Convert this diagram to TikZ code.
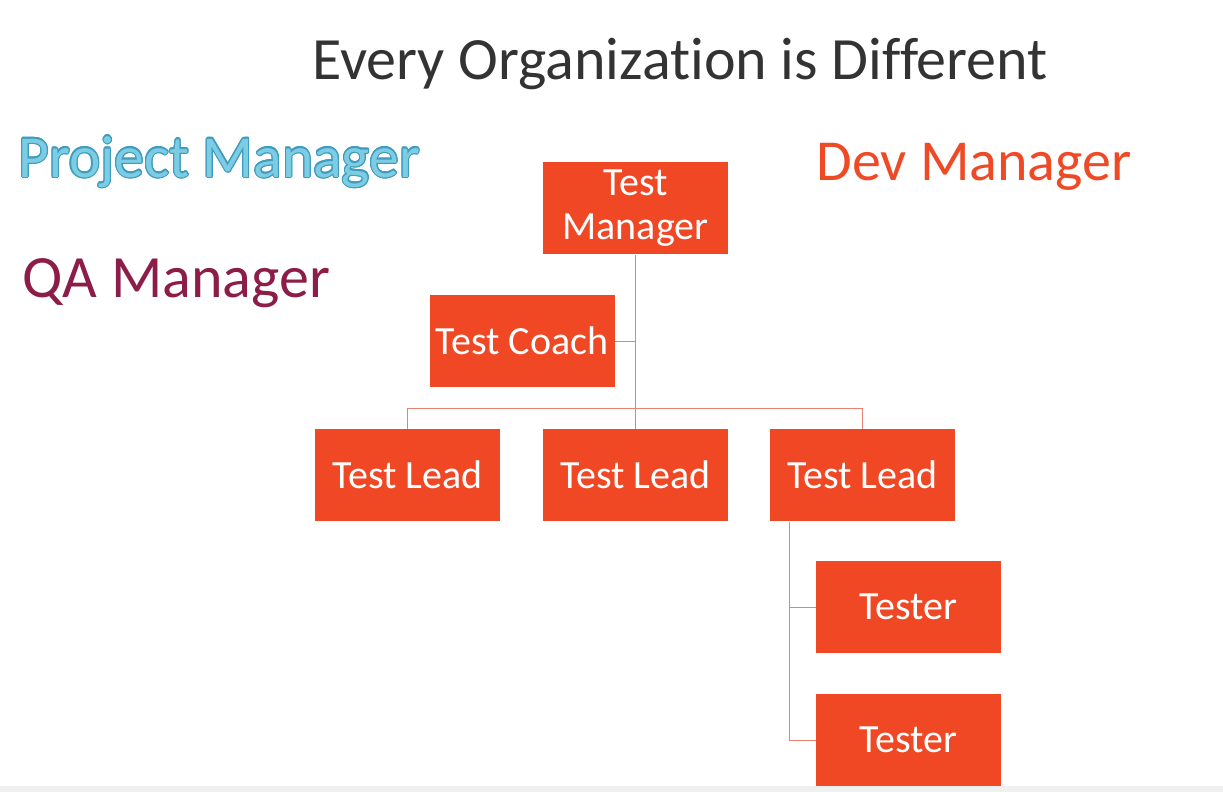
\documentclass[tikz,border=0pt]{standalone}
\usepackage{fontspec}
\setmainfont{Carlito}[Ligatures=NoCommon]
\usepackage{contour}
\usepackage{tikz}
\usetikzlibrary{positioning}

\definecolor{boxred}{HTML}{F04824}
\definecolor{linkred}{HTML}{E98272}
\definecolor{titlegray}{HTML}{333333}
\definecolor{qapurple}{HTML}{8B1D48}
\definecolor{pmfill}{HTML}{7CCDE4}
\definecolor{pmline}{HTML}{3F9CBD}
\definecolor{devred}{HTML}{EE4A26}
\contourlength{1.1pt}

\begin{document}
\begin{tikzpicture}[x=1pt,y=-1pt,line width=1pt,node distance=40pt]

    \tikzstyle{box}=[fill=boxred,text=white,minimum width=185pt,minimum height=92pt,inner sep=0pt,align=center,font=\fontsize{40}{44}\selectfont]
    \tikzstyle{link}=[draw=linkred,line width=1pt]
    \tikzstyle{role}=[anchor=base west,inner sep=0pt,font=\fontsize{58}{60}\selectfont]

    \useasboundingbox (0,0) rectangle (1223,792);
    \fill[gray!12] (0,786) rectangle (1223,792);

    \node[anchor=base,inner sep=0pt,text=titlegray,font=\fontsize{60}{66}\selectfont] (title) at (680,80) {Every Organization is Different};

    \node[role,text=pmfill,font=\fontsize{59.5}{64}\selectfont] (pm) at (18,177) {\contour{pmline}{Project Manager}};
    \node[role,text=qapurple,font=\fontsize{60}{64}\selectfont] (qa) at (22,297) {QA Manager};
    \node[role,text=devred]   (dev) at (816,180) {Dev Manager};

    \node[box] (mgr)     at (635.5,208)       {Test\\Manager};
    \node[box] (coach)   at (522,341)         {Test Coach};
    \node[box] (lead2)   [below=174pt of mgr] {Test Lead};
    \node[box] (lead1)   [left=42pt of lead2] {Test Lead};
    \node[box] (lead3)   [right=41pt of lead2] {Test Lead};
    \node[box] (tester1) at (908.5,607)       {Tester};
    \node[box] (tester2) [below=of tester1]   {Tester};

    \coordinate (tbus) at ([xshift=20pt]lead3.south west);

    \path[link] (mgr.south) -- (lead2.north)
          (coach.east) -- (coach.east -| mgr.south)
          (lead1.north) -- ++(0,-20) -| (lead3.north)
          (tbus) |- (tester2.west)
          (tbus |- tester1.west) -- (tester1.west)
    ;
\end{tikzpicture}
\end{document}
